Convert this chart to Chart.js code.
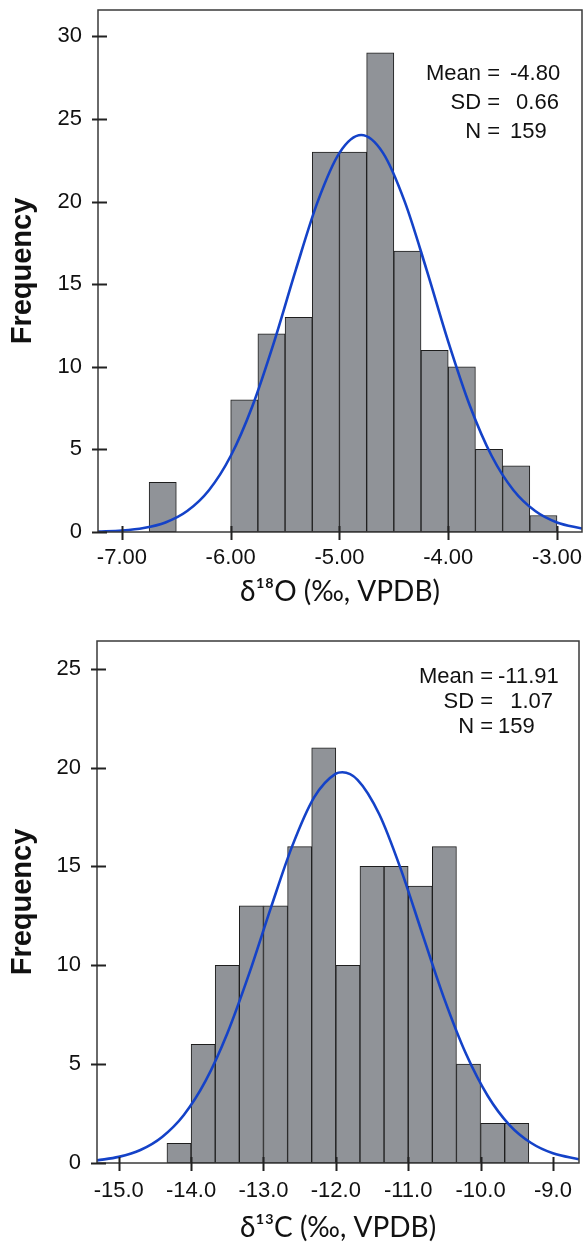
<!DOCTYPE html>
<html>
<head>
<meta charset="utf-8">
<script src="https://cdn.jsdelivr.net/npm/chart.js@4.4.0/dist/chart.umd.min.js"></script>
<style>
  html, body { margin: 0; padding: 0; background: #fff; }
  .panel { position: absolute; left: 0; width: 584px; }
</style>
</head>
<body>
<div class="panel" style="top:0;height:620px"><canvas id="chartO" width="584" height="620"></canvas></div>
<div class="panel" style="top:620px;height:630px"><canvas id="chartC" width="584" height="630"></canvas></div>
<script>
// --- δ18O histogram (bin width 0.25, bin centres) ---
const o18Bins = [-6.625, -5.875, -5.625, -5.375, -5.125, -4.875, -4.625, -4.375, -4.125, -3.875, -3.625, -3.375, -3.125];
const o18Counts = [3, 8, 12, 13, 23, 23, 29, 17, 11, 10, 5, 4, 1];
// fitted normal curve
const o18CurveX = [-7.22, -7.0, -6.8, -6.6, -6.4, -6.2, -6.0, -5.8, -5.6, -5.4, -5.2, -5.0, -4.8, -4.6, -4.4, -4.2, -4.0, -3.8, -3.6, -3.4, -3.2, -3.0, -2.77];
const o18CurveY = [0.03, 0.09, 0.24, 0.58, 1.27, 2.53, 4.60, 7.63, 11.53, 15.90, 20.00, 22.95, 24.03, 22.95, 20.00, 15.90, 11.53, 7.63, 4.60, 2.53, 1.27, 0.58, 0.21];
const o18Ticks = [-7, -6, -5, -4, -3];
const o18YTicks = [0, 5, 10, 15, 20, 25, 30];
const o18StatLabels = ['Mean =', 'SD =', 'N ='];
const o18StatValues = ['-4.80', ' 0.66', '159'];

// --- δ13C histogram (bin width 1/3, bin centres) ---
const c13Bins = [-14.167, -13.833, -13.5, -13.167, -12.833, -12.5, -12.167, -11.833, -11.5, -11.167, -10.833, -10.5, -10.167, -9.833, -9.5];
const c13Counts = [1, 6, 10, 13, 13, 16, 21, 10, 15, 15, 14, 16, 5, 2, 2];
const c13CurveX = [-15.3, -15.0, -14.7, -14.4, -14.1, -13.8, -13.5, -13.2, -12.9, -12.6, -12.3, -12.0, -11.91, -11.7, -11.4, -11.1, -10.8, -10.5, -10.2, -9.9, -9.6, -9.3, -9.0, -8.64];
const c13CurveY = [0.13, 0.31, 0.66, 1.32, 2.43, 4.15, 6.55, 9.55, 12.88, 16.05, 18.49, 19.69, 19.76, 19.38, 17.64, 14.84, 11.54, 8.29, 5.51, 3.39, 1.92, 1.01, 0.49, 0.19];
const c13Ticks = [-15, -14, -13, -12, -11, -10, -9];
const c13YTicks = [0, 5, 10, 15, 20, 25];
const c13StatLabels = ['Mean =', 'SD =', 'N ='];
const c13StatValues = ['-11.91', '  1.07', '159'];

const FONT = '"Liberation Sans", Arial, sans-serif';
const BAR_FILL = '#909398';
const CURVE_BLUE = '#1442c8';

// frame box, crossing tick marks and the stats block
const framePlugin = {
  id: 'frame',
  afterDatasetsDraw(chart, args, opts) {
    const { ctx, chartArea: a, scales } = chart;
    ctx.save();
    ctx.strokeStyle = '#3a3a3a';
    ctx.lineWidth = 1.5;
    ctx.strokeRect(a.left, a.top, a.right - a.left, a.bottom - a.top);
    ctx.strokeStyle = '#222';
    ctx.lineWidth = 2;
    ctx.beginPath();
    scales.y.ticks.forEach(t => {
      const y = Math.round(scales.y.getPixelForValue(t.value)) + 0.5;
      ctx.moveTo(a.left - 6, y);
      ctx.lineTo(a.left + 9, y);
    });
    scales.x.ticks.forEach(t => {
      const x = Math.round(scales.x.getPixelForValue(t.value)) + 0.5;
      ctx.moveTo(x, a.bottom - 6);
      ctx.lineTo(x, a.bottom + 8);
    });
    ctx.stroke();

    ctx.font = '22px ' + FONT;
    ctx.fillStyle = '#111';
    ctx.textBaseline = 'alphabetic';
    opts.labels.forEach((lab, i) => {
      const y = opts.y0 + i * opts.dy;
      ctx.textAlign = 'right';
      ctx.fillText(lab, opts.eqRight, y);
      ctx.textAlign = 'left';
      ctx.fillText(opts.values[i], opts.valLeft, y);
    });
    ctx.restore();
  }
};

function makeHistogram(canvasId, cfg) {
  const bars = cfg.bins.map((b, i) => ({ x: b, y: cfg.counts[i] }));
  const curve = cfg.curveX.map((x, i) => ({ x: x, y: cfg.curveY[i] }));
  return new Chart(document.getElementById(canvasId), {
    type: 'bar',
    data: {
      datasets: [
        {
          type: 'line',
          data: curve,
          borderColor: CURVE_BLUE,
          borderWidth: 2.6,
          pointRadius: 0,
          cubicInterpolationMode: 'monotone',
          fill: false,
          order: 0
        },
        {
          data: bars,
          backgroundColor: BAR_FILL,
          borderColor: '#1e1e1e',
          borderWidth: 1,
          borderSkipped: false,
          barPercentage: 1,
          categoryPercentage: 1,
          order: 1
        }
      ]
    },
    options: {
      responsive: false,
      animation: false,
      layout: { padding: cfg.padding },
      plugins: {
        legend: { display: false },
        tooltip: { enabled: false },
        frame: cfg.stats
      },
      scales: {
        x: {
          type: 'linear',
          offset: false,
          min: cfg.xMin,
          max: cfg.xMax,
          grid: { display: false, drawTicks: false },
          border: { display: false },
          afterBuildTicks: s => { s.ticks = cfg.xTicks.map(v => ({ value: v })); },
          afterFit: s => { s.height = cfg.xHeight; s.paddingLeft = 0; s.paddingRight = 0; },
          ticks: {
            padding: cfg.xTickPad,
            color: '#111',
            font: { family: FONT, size: 22 },
            maxRotation: 0,
            autoSkip: false,
            callback: v => Number(v).toFixed(cfg.decimals)
          },
          title: {
            display: true,
            text: cfg.xTitle,
            color: '#111',
            font: { family: 'Lato, "Open Sans", sans-serif', size: 28 },
            padding: { bottom: cfg.xTitlePad, top: 0 }
          }
        },
        y: {
          min: 0,
          max: cfg.yMax,
          grid: { display: false, drawTicks: false },
          border: { display: false },
          afterBuildTicks: s => { s.ticks = cfg.yTicks.map(v => ({ value: v })); },
          afterFit: s => { s.width = cfg.yWidth; s.paddingTop = 0; s.paddingBottom = 0; },
          ticks: {
            padding: 16,
            color: '#111',
            font: { family: FONT, size: 22 }
          },
          title: {
            display: true,
            text: 'Frequency',
            color: '#111',
            font: { family: FONT, size: 29, weight: 'bold' },
            padding: { top: 6, bottom: 0 }
          }
        }
      }
    },
    plugins: [framePlugin]
  });
}

makeHistogram('chartO', {
  bins: o18Bins, counts: o18Counts, curveX: o18CurveX, curveY: o18CurveY,
  xTicks: o18Ticks, yTicks: o18YTicks, decimals: 2,
  xMin: -7.22, xMax: -2.77, yMax: 31.6,
  padding: { top: 10, right: 2, left: 0, bottom: 0 },
  xHeight: 88, yWidth: 98, xTickPad: 13, xTitlePad: 11,
  xTitle: 'δ¹⁸O (‰, VPDB)',
  stats: { labels: o18StatLabels, values: o18StatValues, eqRight: 500, valLeft: 510, y0: 80, dy: 29 }
});

makeHistogram('chartC', {
  bins: c13Bins, counts: c13Counts, curveX: c13CurveX, curveY: c13CurveY,
  xTicks: c13Ticks, yTicks: c13YTicks, decimals: 1,
  xMin: -15.30, xMax: -8.64, yMax: 26.4,
  padding: { top: 21, right: 5, left: 0, bottom: 0 },
  xHeight: 87, yWidth: 97, xTickPad: 15, xTitlePad: 5,
  xTitle: 'δ¹³C (‰, VPDB)',
  stats: { labels: c13StatLabels, values: c13StatValues, eqRight: 493, valLeft: 498, y0: 63, dy: 25 }
});
</script>
</body>
</html>
